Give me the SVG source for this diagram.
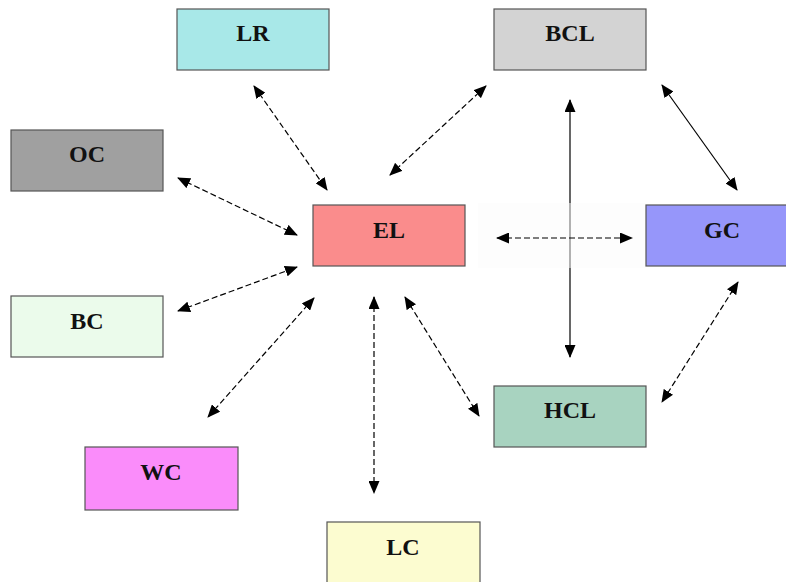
<svg xmlns="http://www.w3.org/2000/svg" width="786" height="582" viewBox="0 0 786 582">
<style>
.box{stroke:#555;stroke-width:1.2}
.lbl{font-family:"Liberation Serif",serif;font-weight:bold;font-size:24px;fill:#111;text-anchor:middle}
.c{stroke:#000;stroke-width:1.2;fill:none;marker-start:url(#ah);marker-end:url(#ah)}
.d{stroke-dasharray:6,3}
</style>
<defs>
<marker id="ah" viewBox="0 0 13 11" refX="12" refY="5.5" markerWidth="13" markerHeight="11" markerUnits="userSpaceOnUse" orient="auto-start-reverse">
<path d="M0,0 L13,5.5 L0,11 Z" fill="#000"/>
</marker>
</defs>
<rect width="786" height="582" fill="#fff"/>
<g id="connectors">
<line class="c" x1="570" y1="100" x2="570" y2="357"/>
<rect x="478" y="203" width="168" height="65" fill="#fcfcfc" opacity="0.5"/>
<line class="c d" x1="254" y1="86" x2="327" y2="190"/>
<line class="c d" x1="486" y1="86" x2="390" y2="175"/>
<line class="c d" x1="178" y1="178" x2="297" y2="235"/>
<line class="c d" x1="178" y1="311" x2="297" y2="267"/>
<line class="c d" x1="314" y1="298" x2="208" y2="417"/>
<line class="c d" x1="374" y1="297" x2="374" y2="493"/>
<line class="c d" x1="405" y1="297" x2="479" y2="416"/>
<line class="c" x1="662" y1="85" x2="737" y2="190"/>
<line class="c d" x1="738" y1="282" x2="662" y2="402"/>
<line class="c d" x1="497" y1="238" x2="632" y2="238"/>
</g>
<g id="LR"><rect class="box" x="177" y="9" width="152" height="61" fill="#a8e8e8"/><text class="lbl" x="253" y="41">LR</text></g>
<g id="BCL"><rect class="box" x="494" y="9" width="152" height="61" fill="#d3d3d3"/><text class="lbl" x="570" y="41">BCL</text></g>
<g id="OC"><rect class="box" x="11" y="130" width="152" height="61" fill="#a0a0a0"/><text class="lbl" x="87" y="162">OC</text></g>
<g id="EL"><rect class="box" x="313" y="205" width="152" height="61" fill="#fa8c8c"/><text class="lbl" x="389" y="238">EL</text></g>
<g id="GC"><rect class="box" x="646" y="205" width="142" height="61" fill="#9696fa"/><text class="lbl" x="722" y="238">GC</text></g>
<g id="BC"><rect class="box" x="11" y="296" width="152" height="61" fill="#ebfbeb"/><text class="lbl" x="87" y="329">BC</text></g>
<g id="HCL"><rect class="box" x="494" y="386" width="152" height="61" fill="#a8d3c0"/><text class="lbl" x="570" y="418">HCL</text></g>
<g id="WC"><rect class="box" x="85" y="447" width="153" height="63" fill="#fa8cfa"/><text class="lbl" x="161" y="480">WC</text></g>
<g id="LC"><rect class="box" x="327" y="522" width="153" height="62" fill="#fcfcd0"/><text class="lbl" x="403" y="555">LC</text></g>
</svg>
